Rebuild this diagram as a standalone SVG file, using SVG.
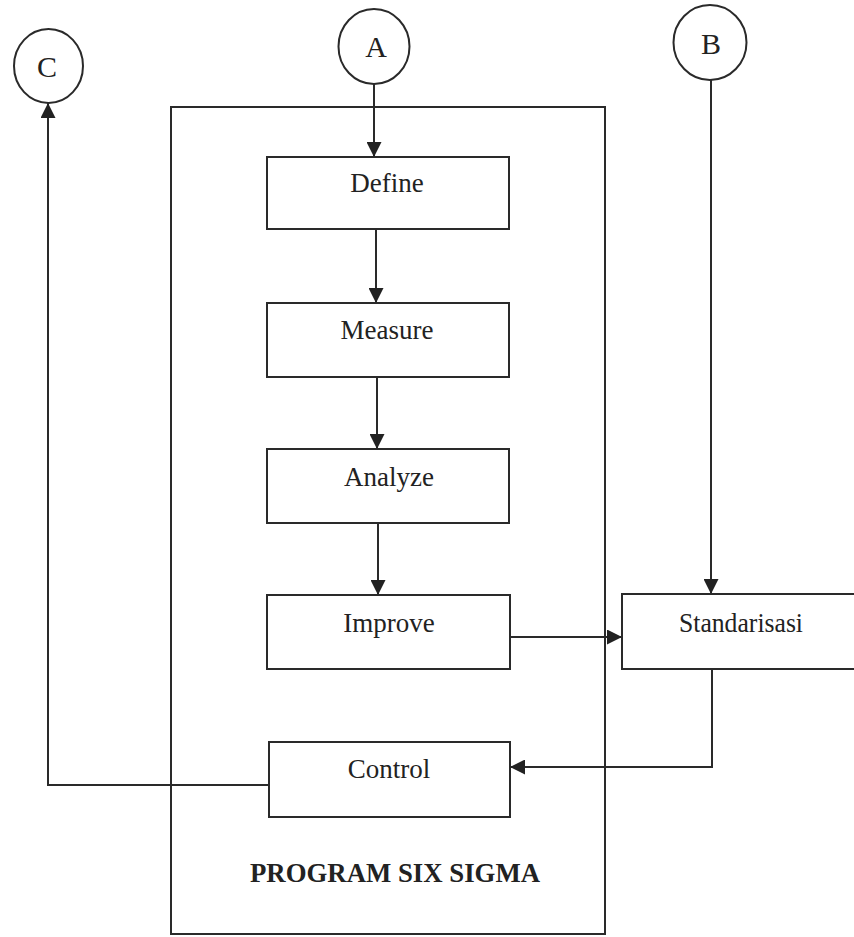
<svg xmlns="http://www.w3.org/2000/svg" width="854" height="937" viewBox="0 0 854 937">
  <defs>
    <marker id="arrow" markerUnits="userSpaceOnUse" markerWidth="15" markerHeight="15" refX="15" refY="7.5" orient="auto">
      <path d="M0,0 L15,7.5 L0,15 Z" fill="#222222"/>
    </marker>
    <style>
      .box { fill: #ffffff; stroke: #2a2a2a; stroke-width: 2; }
      .frame { fill: none; stroke: #2a2a2a; stroke-width: 2; }
      .conn { fill: none; stroke: #2a2a2a; stroke-width: 2; marker-end: url(#arrow); }
      .lbl { font-family: "Liberation Serif", "Times New Roman", serif; font-size: 27px; fill: #222222; text-anchor: middle; }
      .ltr { font-family: "Liberation Serif", "Times New Roman", serif; font-size: 30px; fill: #222222; text-anchor: middle; }
      .title { font-family: "Liberation Serif", "Times New Roman", serif; font-size: 27px; font-weight: bold; fill: #222222; text-anchor: middle; }
    </style>
  </defs>
  <rect width="854" height="937" fill="#ffffff"/>

  <!-- program frame -->
  <g id="program-six-sigma">
    <rect class="frame" x="171" y="107" width="434" height="827"/>
    <text class="title" x="395" y="882" textLength="290" lengthAdjust="spacingAndGlyphs">PROGRAM SIX SIGMA</text>
  </g>

  <!-- connectors -->
  <g id="connectors">
    <line class="conn" x1="374" y1="84" x2="374" y2="157"/>
    <line class="conn" x1="376" y1="229" x2="376" y2="303"/>
    <line class="conn" x1="377" y1="377" x2="377" y2="449"/>
    <line class="conn" x1="378" y1="523" x2="378" y2="595"/>
    <line class="conn" x1="510" y1="637" x2="622" y2="637"/>
    <line class="conn" x1="711" y1="80" x2="711" y2="594"/>
    <polyline class="conn" points="712,669 712,767 510,767"/>
    <polyline class="conn" points="269,785 48,785 48,103"/>
  </g>

  <!-- connector circles -->
  <g id="node-a">
    <ellipse class="box" cx="374" cy="46.5" rx="35.5" ry="37.5"/>
    <text class="ltr" x="376" y="57">A</text>
  </g>
  <g id="node-b">
    <ellipse class="box" cx="710" cy="42.5" rx="36.5" ry="37.5"/>
    <text class="ltr" x="711" y="54">B</text>
  </g>
  <g id="node-c">
    <ellipse class="box" cx="48.5" cy="66" rx="34.5" ry="37"/>
    <text class="ltr" x="47" y="77">C</text>
  </g>

  <!-- DMAIC steps -->
  <g id="node-define">
    <rect class="box" x="267" y="157" width="242" height="72"/>
    <text class="lbl" x="387" y="192">Define</text>
  </g>
  <g id="node-measure">
    <rect class="box" x="267" y="303" width="242" height="74"/>
    <text class="lbl" x="387" y="339">Measure</text>
  </g>
  <g id="node-analyze">
    <rect class="box" x="267" y="449" width="242" height="74"/>
    <text class="lbl" x="389" y="486">Analyze</text>
  </g>
  <g id="node-improve">
    <rect class="box" x="267" y="595" width="243" height="74"/>
    <text class="lbl" x="389" y="632">Improve</text>
  </g>
  <g id="node-control">
    <rect class="box" x="269" y="742" width="241" height="75"/>
    <text class="lbl" x="389" y="778">Control</text>
  </g>

  <!-- standardisation step, running off the right edge -->
  <g id="node-standarisasi">
    <rect class="box" x="622" y="594" width="250" height="75"/>
    <text class="lbl" x="741" y="632" textLength="124" lengthAdjust="spacingAndGlyphs">Standarisasi</text>
  </g>
</svg>
